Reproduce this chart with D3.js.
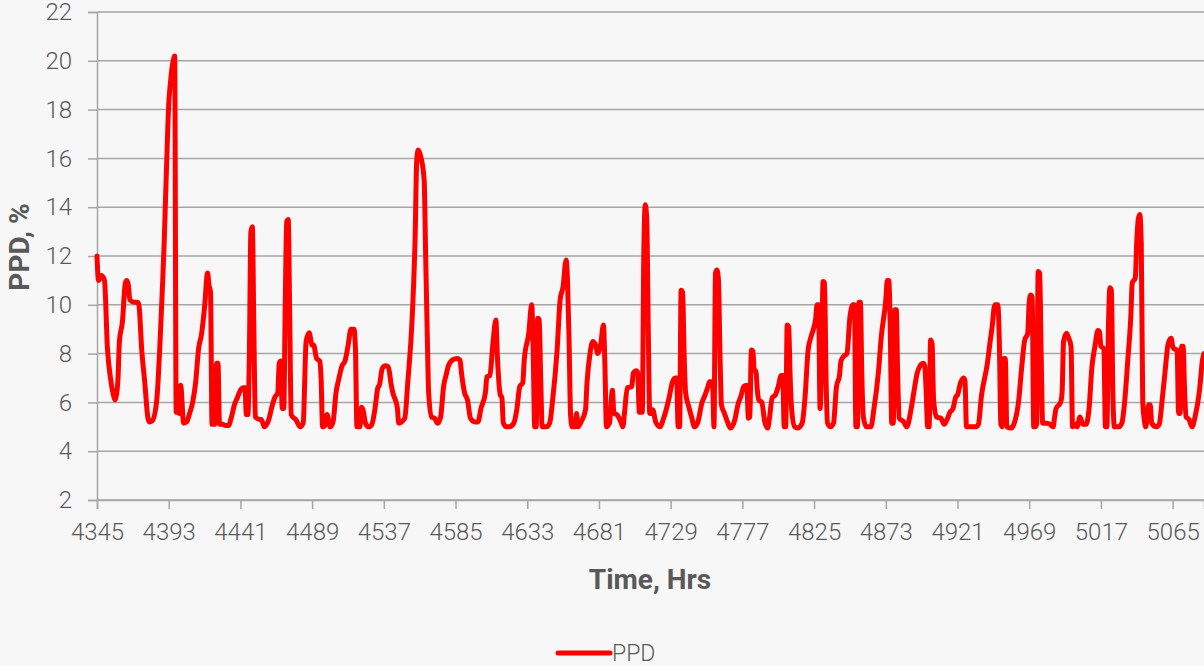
<!DOCTYPE html>
<html>
<head>
<meta charset="utf-8">
<script src="https://cdn.jsdelivr.net/npm/d3@7"></script>
<style>
  html, body { margin: 0; padding: 0; background: #f7f7f7; }
  svg { display: block; }
  text { font-family: Roboto, "Liberation Sans", sans-serif; fill: #595959; }
</style>
</head>
<body>
<svg id="chart" width="1204" height="666"></svg>
<script>
// Hourly PPD readings (hour of year, %)
const hours = [
  4345,4346,4348,4350,4352,4354,4356,4357,4358,4359,4360,4362,4364,4365,4366,4367,4370,4372,4373,4375,
  4377,4379,4380,4382,4385,4386,4387,4388,4389,4390,4391,4392,4393,4394,4395,4396,4397,4398,4399,4400,
  4401,4403,4405,4407,4409,4411,4413,4415,4417,4419,4420,4421,4422,4423,4424,4425,4426,4427,4429,4431,
  4433,4435,4437,4439,4441,4443,4444,4445,4446,4447,4448,4449,4450,4451,4452,4454,4455,4457,4460,4462,
  4464,4466,4467,4468,4469,4470,4471,4472,4473,4474,4475,4477,4478,4481,4483,4485,4487,4489,4490,4492,
  4494,4495,4496,4498,4499,4501,4503,4505,4507,4509,4511,4513,4515,4517,4518,4519,4521,4522,4523,4525,
  4527,4529,4531,4533,4534,4536,4538,4540,4542,4543,4546,4547,4551,4553,4556,4558,4559,4560,4562,4564,
  4565,4566,4567,4569,4571,4573,4575,4577,4579,4580,4583,4586,4588,4589,4591,4593,4595,4598,4600,4602,
  4605,4606,4608,4610,4612,4613,4615,4616,4617,4619,4621,4624,4626,4628,4630,4631,4634,4636,4637,4638,
  4639,4640,4641,4642,4643,4646,4648,4650,4653,4655,4657,4659,4660,4661,4662,4663,4665,4666,4667,4669,
  4672,4673,4675,4677,4679,4680,4682,4684,4685,4686,4688,4690,4691,4693,4696,4697,4698,4700,4703,4704,
  4706,4707,4708,4710,4711,4712,4713,4714,4715,4716,4717,4719,4722,4724,4726,4728,4730,4732,4733,4734,
  4735,4736,4737,4738,4739,4741,4743,4745,4747,4750,4752,4754,4755,4757,4758,4759,4760,4761,4762,4763,
  4765,4767,4769,4772,4774,4776,4778,4780,4781,4782,4783,4784,4785,4786,4787,4788,4790,4792,4794,4795,
  4797,4799,4801,4803,4804,4805,4806,4807,4808,4809,4810,4812,4814,4817,4819,4821,4823,4826,4827,4828,
  4829,4830,4831,4832,4833,4834,4836,4838,4840,4842,4843,4845,4847,4849,4851,4852,4853,4854,4855,4856,
  4857,4858,4860,4863,4865,4868,4870,4873,4874,4875,4876,4877,4878,4879,4880,4881,4882,4885,4887,4890,
  4892,4894,4896,4898,4899,4900,4901,4902,4903,4904,4905,4907,4910,4912,4914,4916,4918,4920,4921,4923,
  4925,4926,4927,4930,4933,4935,4937,4941,4943,4944,4946,4948,4949,4950,4951,4952,4953,4954,4957,4959,
  4962,4964,4966,4968,4969,4970,4971,4972,4973,4974,4975,4976,4977,4978,4981,4983,4985,4986,4987,4990,
  4991,4992,4994,4995,4997,4998,5000,5001,5003,5005,5007,5009,5011,5013,5015,5016,5017,5019,5020,5021,
  5022,5023,5024,5025,5026,5029,5031,5033,5035,5037,5038,5040,5041,5042,5043,5044,5045,5046,5047,5049,
  5050,5051,5054,5056,5058,5060,5062,5064,5065,5066,5068,5069,5070,5071,5072,5073,5074,5076,5078,5080,
  5083,5085,5086
];
const ppd = [
  12.0,11.0,11.2,11.0,8.2,7.0,6.3,6.1,6.3,6.9,8.5,9.3,10.9,11.0,10.8,10.2,10.1,10.1,10.0,8.1,
  6.8,5.4,5.2,5.25,6.1,7.0,8.2,9.6,11.0,12.6,14.6,16.5,18.2,19.0,19.6,20.0,20.2,5.6,5.6,5.55,
  6.7,5.15,5.2,5.55,6.0,6.8,8.2,8.8,9.9,11.3,10.8,10.5,5.1,5.1,5.1,7.6,7.6,5.1,5.1,5.05,
  5.05,5.4,5.9,6.2,6.5,6.6,6.6,5.5,5.5,8.0,13.0,13.2,9.0,5.4,5.35,5.3,5.3,5.0,5.3,5.8,
  6.2,6.4,7.6,7.7,5.75,5.75,10.0,13.4,13.5,9.5,5.5,5.35,5.3,5.0,5.15,8.5,8.85,8.35,8.35,7.8,
  7.7,7.0,5.0,5.1,5.5,5.0,5.2,6.4,7.0,7.5,7.7,8.3,9.0,9.0,8.2,5.0,5.0,5.8,5.7,5.1,
  5.0,5.1,5.7,6.6,6.7,7.4,7.5,7.46,6.7,6.4,5.8,5.15,5.35,6.8,9.5,12.9,15.9,16.34,16.0,15.1,
  12.0,9.0,6.4,5.4,5.35,5.15,5.4,6.65,7.2,7.46,7.74,7.8,7.74,7.2,6.4,6.1,5.35,5.2,5.2,5.75,
  6.4,7.05,7.1,8.4,9.38,7.9,6.3,6.2,5.15,5.0,5.0,5.15,5.7,6.65,6.8,7.74,8.83,10.0,8.0,5.0,
  5.0,9.45,9.4,7.0,5.0,5.0,5.15,6.1,8.15,10.2,10.75,11.84,10.9,8.5,5.5,5.0,5.0,5.55,5.0,5.2,
  5.7,6.8,8.0,8.5,8.3,8.0,8.3,9.17,7.5,5.0,5.15,6.5,5.55,5.5,5.15,5.0,5.5,6.6,6.65,7.2,
  7.3,7.2,5.6,5.6,12.0,14.1,13.5,9.0,5.55,5.55,5.7,5.2,5.0,5.3,5.7,6.2,6.8,7.0,7.0,5.0,
  5.0,10.6,10.5,8.0,6.4,5.85,5.4,5.0,5.15,6.0,6.3,6.65,6.85,6.85,5.0,11.3,11.43,11.0,8.0,5.9,
  5.55,5.2,4.95,5.3,5.9,6.25,6.65,6.7,5.35,5.4,8.15,8.1,7.3,7.3,6.5,6.1,6.0,5.2,4.95,5.3,
  6.2,6.3,6.65,7.1,7.1,5.0,5.0,9.17,9.1,7.0,5.7,5.0,4.95,5.15,6.25,8.15,8.7,9.4,10.0,10.0,
  5.75,7.5,10.95,10.9,7.0,5.15,5.0,5.15,6.65,7.1,7.7,7.9,8.0,9.5,10.0,10.0,5.0,5.0,10.1,10.1,
  7.0,5.4,5.0,5.0,5.7,7.2,8.7,10.2,11.0,11.0,9.0,5.15,5.15,9.8,9.8,7.0,5.35,5.2,5.0,5.75,
  6.5,7.2,7.5,7.6,7.5,6.5,5.0,5.0,8.56,8.4,6.1,5.4,5.35,5.1,5.3,5.6,5.75,6.25,6.3,6.8,
  7.0,6.9,5.0,5.0,5.0,5.1,6.25,7.6,8.56,9.0,10.0,10.0,8.5,5.1,5.0,7.8,7.8,5.0,4.95,5.15,
  6.1,7.46,8.56,8.83,10.1,10.4,10.3,5.0,5.0,5.1,11.36,11.3,8.0,5.15,5.15,5.1,5.0,5.4,5.75,6.0,
  6.4,8.5,8.83,8.7,8.3,5.0,5.1,5.0,5.4,5.1,5.1,5.7,7.46,8.3,8.95,8.9,8.3,8.2,5.0,5.0,
  9.0,10.7,10.6,6.4,5.0,5.0,5.15,6.1,7.74,9.5,10.9,11.1,12.6,13.5,13.7,12.5,6.0,5.3,5.0,5.9,
  5.9,5.15,5.0,5.1,6.1,7.3,8.4,8.63,8.3,8.2,8.15,5.55,5.55,8.3,8.3,6.5,5.4,5.3,5.0,5.4,
  6.5,7.74,8.0
];

// Axis tick values
const xTicks = [4345,4393,4441,4489,4537,4585,4633,4681,4729,4777,4825,4873,4921,4969,5017,5065];
const yTicks = [2,4,6,8,10,12,14,16,18,20,22];
const seriesName = "PPD";
const xTitle = "Time, Hrs";
const yTitle = "PPD, %";

const svg = d3.select("#chart");
const plot = { left: 97, right: 1204, top: 12, bottom: 500 };

const x = d3.scaleLinear().domain([4345, 5086]).range([plot.left, plot.right]);
const y = d3.scaleLinear().domain([2, 22]).range([plot.bottom, plot.top]);

const gridColor = "#a6a6a6";
const tickFont = "Roboto, 'Liberation Sans', sans-serif";

// Horizontal gridlines
svg.append("g")
  .selectAll("line")
  .data(yTicks)
  .join("line")
  .attr("x1", plot.left).attr("x2", plot.right)
  .attr("y1", d => y(d)).attr("y2", d => y(d))
  .attr("stroke", gridColor).attr("stroke-width", 1.5);

// Y axis
const yAxis = svg.append("g")
  .attr("transform", `translate(${plot.left},0)`)
  .call(d3.axisLeft(y).tickValues(yTicks).tickSize(9).tickPadding(16).tickFormat(d3.format("d")));
yAxis.select(".domain").attr("stroke", gridColor).attr("stroke-width", 1.5);
yAxis.selectAll(".tick line").attr("stroke", gridColor).attr("stroke-width", 1.5);
yAxis.selectAll(".tick text")
  .attr("font-size", 24).attr("font-weight", 300).attr("fill", "#5a5a5a")
  .style("font-family", tickFont);

// X axis
const xAxis = svg.append("g")
  .attr("transform", `translate(0,${plot.bottom})`)
  .call(d3.axisBottom(x).tickValues(xTicks).tickSize(9).tickPadding(14).tickFormat(d3.format("d")));
xAxis.select(".domain").attr("stroke", gridColor).attr("stroke-width", 1.5);
xAxis.selectAll(".tick line").attr("stroke", gridColor).attr("stroke-width", 1.5);
xAxis.selectAll(".tick text")
  .attr("font-size", 24).attr("font-weight", 300).attr("fill", "#5a5a5a")
  .style("font-family", tickFont);

// PPD line
const line = d3.line()
  .x((d, i) => x(hours[i]))
  .y(d => y(d))
  .curve(d3.curveMonotoneX);

svg.append("path")
  .datum(ppd)
  .attr("d", line)
  .attr("fill", "none")
  .attr("stroke", "#ff0000")
  .attr("stroke-width", 5)
  .attr("stroke-linejoin", "round")
  .attr("stroke-linecap", "round");

// Axis titles
svg.append("text")
  .attr("x", 650).attr("y", 589)
  .attr("text-anchor", "middle")
  .attr("font-size", 28).attr("font-weight", "bold")
  .text(xTitle);

svg.append("text")
  .attr("transform", "translate(29,247) rotate(-90)")
  .attr("text-anchor", "middle")
  .attr("font-size", 28).attr("font-weight", "bold")
  .text(yTitle);

// Legend
const legend = svg.append("g");
legend.append("line")
  .attr("x1", 558).attr("x2", 610)
  .attr("y1", 653).attr("y2", 653)
  .attr("stroke", "#ff0000").attr("stroke-width", 5)
  .attr("stroke-linecap", "round");
legend.append("text")
  .attr("x", 612).attr("y", 661)
  .attr("font-size", 23).attr("font-weight", 300)
  .text(seriesName);
</script>
</body>
</html>
